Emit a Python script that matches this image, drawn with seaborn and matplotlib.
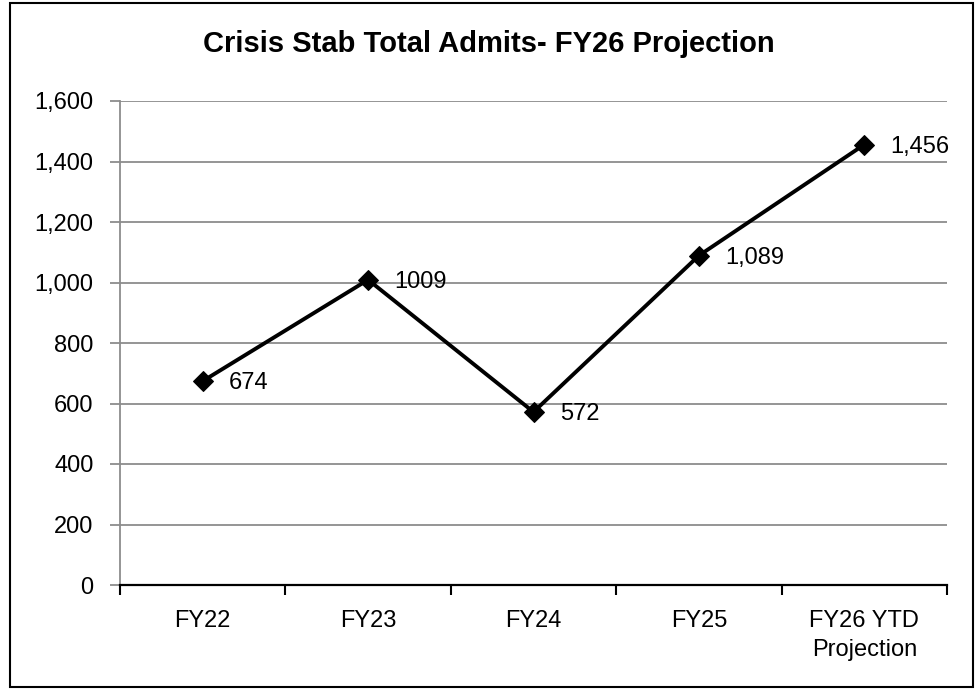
import matplotlib
matplotlib.use("Agg")
import matplotlib.pyplot as plt
import seaborn as sns
import pandas as pd
from matplotlib.patches import Rectangle
from matplotlib.ticker import FuncFormatter, FixedLocator

categories = ["FY22", "FY23", "FY24", "FY25", "FY26 YTD\nProjection"]
admits = [674, 1009, 572, 1089, 1456]
point_labels = ["674", "1009", "572", "1,089", "1,456"]
title = "Crisis Stab Total Admits- FY26 Projection"

sns.set_theme(style="white")
plt.rcParams['font.family'] = ['Liberation Sans', 'DejaVu Sans']
plt.rcParams['text.color'] = 'black'

df = pd.DataFrame({"pos": range(len(categories)), "admits": admits})

fig = plt.figure(figsize=(9.78, 6.9), dpi=100)
ax = fig.add_axes([120/978, 1 - 585/690, (947-120)/978, (585-101)/690])

sns.lineplot(data=df, x="pos", y="admits", ax=ax, color="black", linewidth=2.8,
             marker="D", markersize=10, markeredgecolor="black", markerfacecolor="black")

for x, y, lab in zip(df["pos"], df["admits"], point_labels):
    ax.annotate(lab, (x, y), xytext=(19, -1.5), textcoords="offset points",
                ha="left", va="center", fontsize=17, color="black")

ax.set_xlim(-0.5, len(categories) - 0.5)
ax.set_ylim(0, 1600)
ax.set_yticks(range(0, 1601, 200))
ax.yaxis.set_major_formatter(FuncFormatter(lambda v, p: f"{int(v):,}"))
ax.grid(axis="y", color="#8c8c8c", linewidth=1.3)
ax.grid(axis="x", visible=False)

ax.xaxis.set_major_locator(FixedLocator([i - 0.5 for i in range(len(categories) + 1)]))
ax.xaxis.set_minor_locator(FixedLocator(list(range(len(categories)))))
ax.set_xticklabels([""] * (len(categories) + 1))
ax.set_xticklabels(categories, minor=True)
ax.tick_params(axis="x", which="major", direction="out", length=7, width=1.5, color="black", bottom=True)
ax.tick_params(axis="x", which="minor", length=0, labelsize=17, pad=18, labelcolor="black")
ax.tick_params(axis="y", direction="out", length=7, width=1.3, color="#8c8c8c", left=True,
               labelsize=17, pad=12, labelcolor="black")
for lab in ax.get_xticklabels(minor=True):
    lab.set_linespacing(1.4)

ax.set_xlabel("")
ax.set_ylabel("")
for s in ["top", "right"]:
    ax.spines[s].set_visible(False)
ax.spines["left"].set_color("#8c8c8c")
ax.spines["left"].set_linewidth(1.3)
ax.spines["bottom"].set_color("black")
ax.spines["bottom"].set_linewidth(1.6)
ax.set_axisbelow(True)

fig.text(0.5, 1 - 44/690, title, ha="center", va="center", fontsize=21, fontweight="bold",
         color="black")

fig.patches.append(Rectangle((10/978, 3/690), 963/978, 684/690, transform=fig.transFigure,
                             fill=False, edgecolor="black", linewidth=1.5))

fig.savefig("out.png", dpi=100)
